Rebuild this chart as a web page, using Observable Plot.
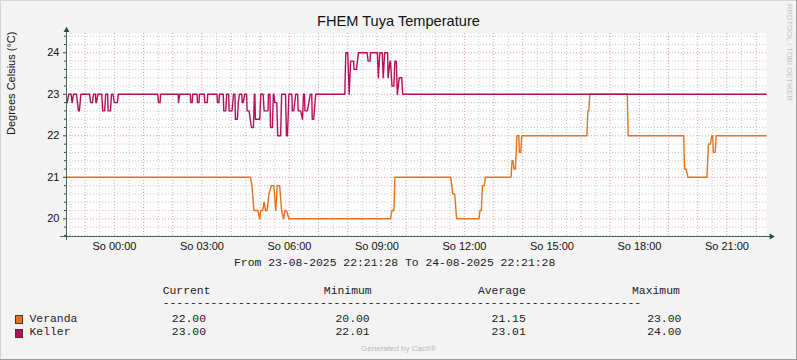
<!DOCTYPE html>
<html>
<head>
<meta charset="utf-8">
<script src="https://cdn.jsdelivr.net/npm/d3@7"></script>
<script src="https://cdn.jsdelivr.net/npm/@observablehq/plot@0.6"></script>
<style>
  html, body { margin: 0; padding: 0; background: #F3F3F3; }
  #chart { position: relative; width: 797px; height: 360px; background: #F3F3F3; overflow: hidden;
           box-shadow: inset -1px -1px 0 #9C9C9C, inset 1px 1px 0 #D4D4D4;
           font-family: "Liberation Sans", Arial, sans-serif; }
  #chart svg { position: absolute; left: 0; top: 0; }
  .t { position: absolute; white-space: pre; }
  .mono { font-family: "Liberation Mono", "DejaVu Sans Mono", monospace; font-size: 11.4px; line-height: 13px; color: #222; }
  .sw { position: absolute; width: 6px; height: 7px; border: 1px solid #3a3a3a; }
</style>
</head>
<body>
<div id="chart"></div>
<script>
// ---------------- data ----------------
const title = "FHEM Tuya Temperature";
const yLabel = "Degrees Celsius (°C)";
const periodText = "From 23-08-2025 22:21:28 To 24-08-2025 22:21:28";
const seriesNames = ["Veranda", "Keller"];
const seriesColors = ["#E8721C", "#B50F5B"];
const legendHeaders = ["Current", "Minimum", "Average", "Maximum"];
const verandaStats = ["22.00", "20.00", "21.15", "23.00"];
const kellerStats = ["23.00", "22.01", "23.01", "24.00"];
const yTickValues = [20, 21, 22, 23, 24];
const weekdayNames = ["So", "Mo", "Di", "Mi", "Do", "Fr", "Sa"];

// times given as "day HH:MM" (August 2025)
const verandaTime = ["23 22:21","24 04:40","24 04:43","24 04:47","24 04:55","24 04:59","24 05:01","24 05:05","24 05:08","24 05:11",
  "24 05:14","24 05:18","24 05:23","24 05:28","24 05:32","24 05:35","24 05:40","24 05:44","24 05:48","24 05:51",
  "24 05:54","24 05:59","24 09:28","24 09:31","24 09:35","24 09:37","24 11:32","24 11:36","24 11:40","24 11:44",
  "24 12:30","24 12:32","24 12:35","24 12:37","24 12:41","24 12:43","24 13:36","24 13:38","24 13:40","24 13:42",
  "24 13:45","24 13:48","24 13:52","24 13:53","24 13:56","24 13:58","24 16:12","24 16:14","24 16:16","24 16:18",
  "24 17:35","24 17:37","24 19:31","24 19:33","24 19:36","24 19:40","24 20:19","24 20:22","24 20:26","24 20:29",
  "24 20:31","24 20:32","24 20:36","24 20:38","24 22:21"];
const verandaValue = [21,21,20.8,20.2,20.2,20.0,20.2,20.2,20.4,20.2,
  20.2,20.6,20.8,20.8,20.2,20.8,20.8,20.2,20.0,20.2,
  20.2,20.0,20.0,20.2,20.2,21,21,20.6,20.6,20.0,
  20.0,20.2,20.2,20.8,20.8,21,21,21.4,21.4,21.2,
  21.2,22,22,21.6,21.6,22,22,22.6,22.6,23,
  23,22,22,21.2,21.2,21,21,21.8,21.8,22,
  22,21.6,21.6,22,22];

const kellerTime = ["23 22:21","23 22:23","23 22:26","23 22:31","23 22:33","23 22:36","23 22:42","23 22:46","23 22:48","23 22:51",
  "23 23:09","23 23:11","23 23:15","23 23:17","23 23:21","23 23:22","23 23:23","23 23:26","23 23:34","23 23:36",
  "23 23:40","23 23:42","23 23:46","23 23:47","23 23:52","23 23:54","23 23:57","24 00:00","24 00:06","24 00:08",
  "24 01:29","24 01:31","24 01:34","24 01:35","24 02:11","24 02:12","24 02:14","24 02:36","24 02:37","24 02:40",
  "24 02:41","24 02:50","24 02:51","24 02:54","24 02:55","24 03:05","24 03:06","24 03:11","24 03:12","24 03:31",
  "24 03:32","24 03:35","24 03:36","24 03:44","24 03:45","24 03:49","24 03:51","24 03:55","24 03:56","24 04:02",
  "24 04:05","24 04:08","24 04:09","24 04:13","24 04:15","24 04:17","24 04:22","24 04:23","24 04:25","24 04:28",
  "24 04:32","24 04:33","24 04:37","24 04:42","24 04:46","24 04:48","24 04:49","24 04:50","24 04:59","24 05:01",
  "24 05:06","24 05:08","24 05:16","24 05:17","24 05:20","24 05:21","24 05:25","24 05:27","24 05:28","24 05:30",
  "24 05:34","24 05:36","24 05:42","24 05:44","24 05:52","24 05:54","24 05:56","24 05:59","24 06:05","24 06:06",
  "24 06:09","24 06:13","24 06:17","24 06:18","24 06:23","24 06:27","24 06:29","24 06:31","24 06:32","24 06:37",
  "24 06:40","24 06:43","24 06:46","24 06:47","24 06:50","24 06:54","24 07:54","24 07:56","24 08:00","24 08:03",
  "24 08:06","24 08:12","24 08:13","24 08:18","24 08:22","24 08:40","24 08:42","24 08:46","24 08:47","24 09:01",
  "24 09:03","24 09:06","24 09:11","24 09:13","24 09:16","24 09:22","24 09:23","24 09:27","24 09:28","24 09:31",
  "24 09:35","24 09:37","24 09:40","24 09:42","24 09:46","24 09:51","24 09:53","24 22:21"];
const kellerValue = [22.8,22.8,23,23,22.8,23,23,22.6,22.6,23,
  23,22.8,22.8,23,23,22.8,22.8,23,23,22.6,
  22.6,23,23,22.6,22.6,23,23,22.8,22.8,23,
  23,22.8,22.8,23,23,22.8,23,23,22.8,22.8,
  23,23,22.8,22.8,23,23,22.8,22.8,23,23,
  22.8,22.8,23,23,22.6,22.6,23,23,22.6,22.6,
  23,23,22.4,22.4,22.8,23,23,22.8,22.8,23,
  23,22.6,22.6,22.2,22.2,23,23,22.4,22.4,23,
  23,22.6,22.6,23,23,22.2,22.2,23,23,22.8,
  22.8,22.0,22.0,23,23,22.0,22.0,23,23,22.6,
  22.6,23,23,22.6,22.6,22.4,23,23,22.6,22.6,
  22.8,23,23,22.4,22.4,23,23,24,24,23,
  23.8,23.8,23.6,23.6,24,24,23.8,23.8,24,24,
  23.4,24,24,23.4,24,24,23.4,23.8,23.8,23.2,
  23.2,23.8,23.8,23,23.4,23.4,23,23];

// ---------------- build ----------------
const parse = d3.timeParse("%Y-%m-%d %H:%M");
const T = s => parse("2025-08-" + s);
const start = new Date(2025, 7, 23, 22, 21, 28);
const end = new Date(2025, 7, 24, 22, 21, 28);
const yDomain = [19.574, 24.465];

const veranda = verandaTime.map((t, i) => ({t: T(t), v: verandaValue[i]}));
const keller = kellerTime.map((t, i) => ({t: T(t), v: kellerValue[i]}));

const halfHours = d3.timeMinute.every(30).range(start, end);
const minorX = halfHours.filter(d => d.getMinutes() !== 0);
const majorX = halfHours.filter(d => d.getMinutes() === 0);
const fifths = d3.range(98, 123).map(i => i / 5);
const minorY = fifths.filter(v => !Number.isInteger(v));
const labelTicks = d3.timeHour.every(3).range(start, end);
const fmtHM = d3.timeFormat("%H:%M");

const axisColor = "#2C4D43";
const minute = 60000;

const plot = Plot.plot({
  width: 797, height: 270,
  marginLeft: 66, marginRight: 31, marginTop: 33, marginBottom: 34,
  style: {background: "transparent", fontFamily: "'Liberation Sans', Arial, sans-serif", fontSize: "11px", color: "#111", overflow: "visible"},
  x: {type: "time", domain: [start, end], label: null},
  y: {domain: yDomain, label: null},
  marks: [
    Plot.frame({fill: "#FDFDFD", stroke: null}),
    Plot.ruleY(minorY, {stroke: "#C8C8C8", strokeDasharray: "1,2"}),
    Plot.ruleX(minorX, {stroke: "#C8C8C8", strokeDasharray: "1,2"}),
    Plot.ruleY(yTickValues, {stroke: "#E9A0A0", strokeDasharray: "1,2"}),
    Plot.ruleX(majorX, {stroke: "#E9A0A0", strokeDasharray: "1,2"}),
    Plot.line(veranda, {x: "t", y: "v", stroke: seriesColors[0], strokeWidth: 1.4}),
    Plot.line(keller, {x: "t", y: "v", stroke: seriesColors[1], strokeWidth: 1.4}),
    // axes lines with arrows
    Plot.ruleY([yDomain[0]], {x1: new Date(+start - 12 * minute), x2: new Date(+end + 9 * minute), stroke: axisColor, strokeOpacity: 0.85}),
    Plot.ruleX([start], {y1: yDomain[0] - 0.1, y2: yDomain[1] + 0.08, stroke: axisColor, strokeOpacity: 0.85}),
    Plot.dot([end], {x: d => new Date(+d + 10 * minute), y: yDomain[0], symbol: "triangle", r: 2.2, fill: axisColor, stroke: null, rotate: 90}),
    Plot.dot([start], {x: d => d, y: yDomain[1] + 0.08, symbol: "triangle", r: 2.2, fill: axisColor, stroke: null}),
    Plot.axisY(minorY, {tickSize: 2, text: null, label: null, stroke: axisColor}),
    Plot.axisY(yTickValues, {tickSize: 3, tickPadding: 4, stroke: axisColor, fill: "#111", label: null, tickFormat: d => d}),
    Plot.axisX(labelTicks, {tickSize: 0, tickPadding: 6, label: null, fill: "#111",
      tickFormat: d => weekdayNames[d.getDay()] + " " + fmtHM(d)}),
    Plot.text([yLabel], {frameAnchor: "left", dx: -55, rotate: -90, fontSize: 11, fill: "#111"})
  ]
});

const chart = document.getElementById("chart");
chart.appendChild(plot);

function addText(txt, left, top, cls, style) {
  const el = document.createElement("div");
  el.className = "t " + (cls || "");
  el.textContent = txt;
  el.style.left = left + "px";
  el.style.top = top + "px";
  if (style) Object.assign(el.style, style);
  chart.appendChild(el);
  return el;
}

// title (centred)
addText(title, 0, 13, "", {width: "797px", textAlign: "center", fontSize: "14.6px", color: "#111"});
// watermark
addText("RRDTOOL / TOBI OETIKER", 785, 4, "", {writingMode: "vertical-rl", fontSize: "7.5px", color: "#C4C4C4", letterSpacing: "0.1px"});
// period line
addText(periodText, 234, 257, "mono");
// legend headers
const headerX = [162.7, 323.8, 477.9, 632];
legendHeaders.forEach((h, i) => addText(h, headerX[i], 285, "mono"));
addText("-".repeat(70), 162.7, 297, "mono");
const valueX = [171.8, 335.5, 491.6, 647.2];
const rows = [verandaStats, kellerStats];
const rowTop = [312.5, 326];
seriesNames.forEach((name, r) => {
  const sw = document.createElement("div");
  sw.className = "sw";
  sw.style.left = "15px";
  sw.style.top = (rowTop[r] + 2.5) + "px";
  sw.style.background = seriesColors[r];
  chart.appendChild(sw);
  addText(name, 29.5, rowTop[r], "mono");
  rows[r].forEach((v, i) => addText(v, valueX[i], rowTop[r], "mono"));
});
addText("Generated by Cacti®", 0, 344, "", {width: "797px", textAlign: "center", fontSize: "8px", color: "#B8B8B8"});
</script>
</body>
</html>
